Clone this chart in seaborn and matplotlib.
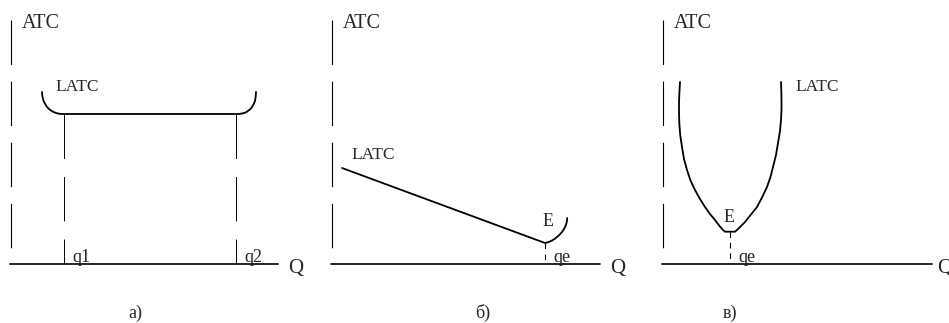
import matplotlib
matplotlib.use("Agg")
import matplotlib.pyplot as plt
import seaborn as sns

# panel a) - flat LATC between q1 and q2 (local pixel-like units, origin at axes corner)
a_latc_x = [31, 31.3, 32, 33, 34.5, 36, 38, 40, 42.5, 45, 47.5, 50, 53,
            225, 228, 230.5, 233, 235.5, 237.5, 239.5, 241, 242.5, 243.8, 244.6, 245]
a_latc_y = [172, 168.5, 165, 162, 159.5, 157, 155, 153.5, 152, 151, 150.4, 150, 150,
            150, 150, 150.4, 151, 152, 153.5, 155, 157, 159.5, 162.5, 166.5, 172]
a_q = [53, 225]
a_q_labels = ["q1", "q2"]

# panel б) - falling LATC with minimum at E
b_latc_x = [10, 213, 215, 217.5, 220, 222.5, 225, 227.5, 229.8, 231.8, 233.3, 234.4, 235, 235.2]
b_latc_y = [96, 21, 21.5, 22.3, 23.5, 25, 27, 29.2, 31.8, 34.6, 37.5, 40.5, 43.5, 46]
b_qe = 213

# panel в) - U-shaped LATC
c_latc_x = [17, 16.3, 16, 16, 16.3, 17.2, 19, 21, 24, 27.5, 32, 37, 42, 47, 52, 56.5, 60, 62,
            72, 74, 77.5, 82, 88, 94, 99, 104, 107.5, 110, 113, 115, 117, 118, 118.5, 118.5, 118.3, 118]
c_latc_y = [182, 170, 161, 151, 141, 129, 117, 105, 94, 83.5, 74, 65, 57, 50, 44, 38, 34, 32.3,
            32.3, 34, 37.5, 42, 49.5, 57, 66.5, 77, 87, 97, 109, 121, 133, 144, 154, 164, 173, 182]
c_qe = 67

sns.set_style("white")
plt.rcParams["font.family"] = ["Liberation Serif", "DejaVu Serif"]
plt.rcParams["lines.scale_dashes"] = False

fig = plt.figure(figsize=(9.49, 3.23), dpi=100)

# axes geometry: [pixel left, pixel right, pixel x of the origin]
panels = [(0, 315, 11), (315, 630, 332), (630, 949, 663)]
axes = []
for left, right, x0 in panels:
    ax = fig.add_axes([left / 949, 0, (right - left) / 949, 1])
    ax.set_xlim(left - x0, right - x0)
    ax.set_ylim(264 - 323, 264)
    ax.axis("off")
    axes.append(ax)


def draw_axes(ax, x_end):
    ax.plot([0, 0], [244, 16], color="black", lw=0.8, dashes=(32, 12))
    ax.plot([-1, x_end], [0, 0], color="black", lw=1.2)
    ax.text(11, 241, "ATC", fontsize=14.5, ha="left", va="center")


# a)
ax = axes[0]
draw_axes(ax, 267)
sns.lineplot(x=a_latc_x, y=a_latc_y, sort=False, estimator=None, color="black", lw=1.3, ax=ax)
for q, lab in zip(a_q, a_q_labels):
    ax.plot([q, q], [150, 0], color="black", lw=0.7, dashes=(32, 13))
    ax.text(q + 8, 7, lab, fontsize=13, ha="left", va="center")
ax.text(44, 177, "LATC", fontsize=12.5, ha="left", va="center")
ax.text(277, -4, "Q", fontsize=15, ha="left", va="center")
ax.text(124, -49, "а)", fontsize=13, ha="center", va="center")

# б)
ax = axes[1]
draw_axes(ax, 268)
sns.lineplot(x=b_latc_x, y=b_latc_y, sort=False, estimator=None, color="black", lw=1.3, ax=ax)
ax.plot([b_qe, b_qe], [21, 0], color="black", lw=0.8, dashes=(4, 4))
ax.text(19, 109, "LATC", fontsize=12.5, ha="left", va="center")
ax.text(211, 42, "E", fontsize=13, ha="left", va="center")
ax.text(221, 7, "qe", fontsize=13, ha="left", va="center")
ax.text(278, -4, "Q", fontsize=15, ha="left", va="center")
ax.text(151, -49, "б)", fontsize=13, ha="center", va="center")

# в)
ax = axes[2]
draw_axes(ax, 269)
sns.lineplot(x=c_latc_x, y=c_latc_y, sort=False, estimator=None, color="black", lw=1.3, ax=ax)
ax.plot([c_qe, c_qe], [32, 0], color="black", lw=0.8, dashes=(4, 3.5))
ax.text(132, 177, "LATC", fontsize=12.5, ha="left", va="center")
ax.text(61, 46, "E", fontsize=13, ha="left", va="center")
ax.text(75, 7, "qe", fontsize=13, ha="left", va="center")
ax.text(274, -4, "Q", fontsize=15, ha="left", va="center")
ax.text(67, -49, "в)", fontsize=13, ha="center", va="center")

fig.savefig("out.png", dpi=100)
